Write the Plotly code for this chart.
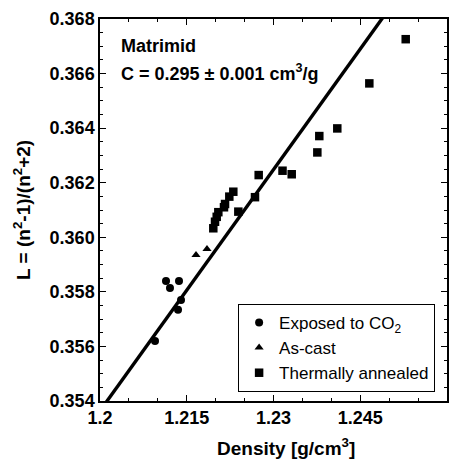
import plotly.graph_objects as go

# Lorentz-Lorenz parameter L = (n^2-1)/(n^2+2) versus film density for Matrimid
co2_density = [1.21141, 1.21366, 1.21210, 1.21401, 1.21349, 1.20951]
co2_L = [0.35840, 0.35840, 0.35814, 0.35770, 0.35734, 0.35620]

ascast_density = [1.21660, 1.21850]
ascast_L = [0.35935, 0.35957]

annealed_density = [1.21959, 1.21989, 1.22018, 1.22046, 1.22144, 1.22162,
                    1.22236, 1.22305, 1.22392, 1.22680, 1.22744, 1.23156,
                    1.23315, 1.23758, 1.23792, 1.24103, 1.24657, 1.25286]
annealed_L = [0.36033, 0.36057, 0.36075, 0.36092, 0.36110, 0.36122,
              0.36149, 0.36167, 0.36094, 0.36147, 0.36228, 0.36244,
              0.36231, 0.36311, 0.36371, 0.36399, 0.36564, 0.36726]

# Specific refraction from the fit through the origin: L = C * density
C_fit = 0.2947
fit_density = [1.19, 1.27]
fit_L = [C_fit * d for d in fit_density]

x_tickvals = [1.2, 1.215, 1.23, 1.245, 1.26]
x_ticktext = ["1.2", "1.215", "1.23", "1.245", "1.26"]
y_tickvals = [0.354, 0.356, 0.358, 0.360, 0.362, 0.364, 0.366, 0.368]
y_ticktext = ["0.354", "0.356", "0.358", "0.360", "0.362", "0.364", "0.366", "0.368"]

FONT = "Liberation Sans, Arial, Helvetica, sans-serif"

fig = go.Figure()

fig.add_trace(go.Scatter(
    x=fit_density, y=fit_L, mode="lines",
    line=dict(color="black", width=3.4),
    showlegend=False, hoverinfo="skip"))

fig.add_trace(go.Scatter(
    x=co2_density, y=co2_L, mode="markers", name="Exposed to CO<sub>2</sub>",
    marker=dict(symbol="circle", size=8, color="black")))

fig.add_trace(go.Scatter(
    x=ascast_density, y=ascast_L, mode="markers", name="As-cast",
    marker=dict(symbol="triangle-up", size=8, color="black")))

fig.add_trace(go.Scatter(
    x=annealed_density, y=annealed_L, mode="markers", name="Thermally annealed",
    marker=dict(symbol="square", size=8.5, color="black")))

axis_common = dict(
    showgrid=False, zeroline=False, automargin=False,
    showline=True, linecolor="black", linewidth=1.5, mirror="ticks",
    ticks="inside", ticklen=6, tickwidth=1.3, tickcolor="black",
    tickfont=dict(family=FONT, size=18, color="black", weight="bold"),
)

fig.update_xaxes(
    range=[1.2, 1.26], tickvals=x_tickvals, ticktext=x_ticktext,
    minor=dict(dtick=0.005, tick0=1.2, ticks="inside", ticklen=3.5,
               tickwidth=1.2, tickcolor="black"),
    **axis_common)

fig.update_yaxes(
    range=[0.354, 0.368], tickvals=y_tickvals, ticktext=y_ticktext,
    minor=dict(dtick=0.0005, tick0=0.354, ticks="inside", ticklen=3.5,
               tickwidth=1.2, tickcolor="black"),
    **axis_common)

# Axis titles
fig.add_annotation(
    xref="paper", yref="paper", x=0.536, y=-0.12, xanchor="center", yanchor="middle",
    text="<b>Density [g/cm<sup>3</sup>]</b>", showarrow=False,
    font=dict(family=FONT, size=19, color="black"))
fig.add_annotation(
    xref="paper", yref="paper", x=-0.225, y=0.5, xanchor="center", yanchor="middle",
    text="<b>L = (n<sup>2</sup>-1)/(n<sup>2</sup>+2)</b>", showarrow=False, textangle=-90,
    font=dict(family=FONT, size=19, color="black"))

# In-plot labels
fig.add_annotation(
    xref="paper", yref="paper", x=0.055, y=0.93, xanchor="left", yanchor="middle",
    text="<b>Matrimid</b>", showarrow=False,
    font=dict(family=FONT, size=18, color="black"))
fig.add_annotation(
    xref="paper", yref="paper", x=0.055, y=0.86, xanchor="left", yanchor="middle",
    text="<b>C = 0.295 ± 0.001 cm<sup>3</sup>/g</b>", showarrow=False,
    font=dict(family=FONT, size=18, color="black"))

fig.update_layout(
    width=464, height=464,
    margin=dict(l=100, r=17, t=19, b=63),
    paper_bgcolor="white", plot_bgcolor="white",
    font=dict(family=FONT, color="black"),
    legend=dict(
        x=0.398, y=0.254, xanchor="left", yanchor="top",
        bgcolor="white", bordercolor="black", borderwidth=1,
        font=dict(family=FONT, size=17, color="black"),
        itemwidth=30, tracegroupgap=0),
)

fig.write_html("out.html")
